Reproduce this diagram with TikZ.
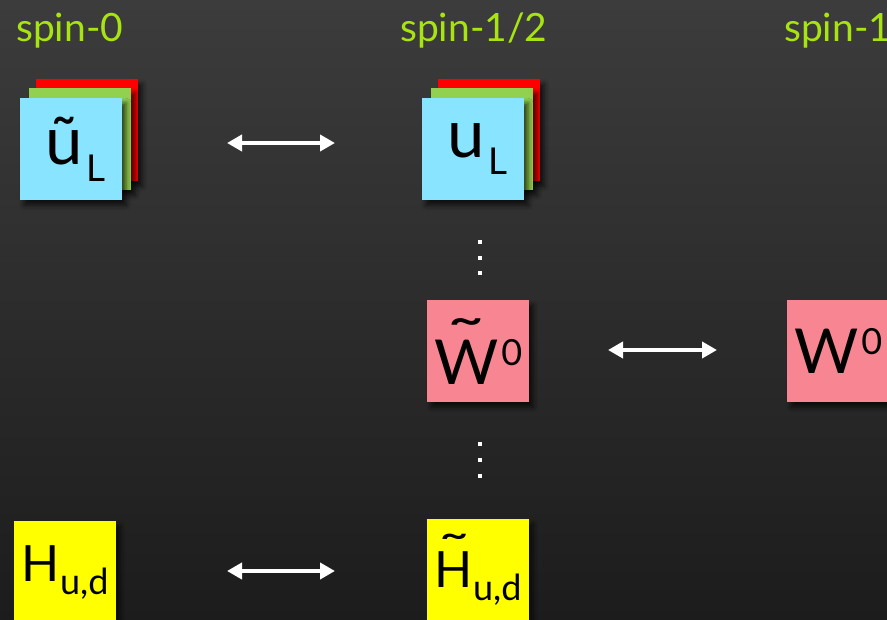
\documentclass[tikz,border=0pt]{standalone}
\usepackage{fontspec}
\setmainfont{Lato}
\usepackage{tikz}
\usetikzlibrary{arrows.meta,shadows.blur}
\definecolor{boardtop}{RGB}{60,60,60}
\definecolor{boardbot}{RGB}{28,28,28}
\definecolor{spinlab}{RGB}{168,228,18}
\definecolor{qblue}{RGB}{136,228,255}
\definecolor{qgreen}{RGB}{146,208,80}
\definecolor{qred}{RGB}{255,0,0}
\definecolor{gpink}{RGB}{248,134,146}
\definecolor{hyel}{RGB}{255,255,0}
\newcommand\captilde[1]{\leavevmode\setbox0\hbox{#1}\rlap{\hbox to\wd0{\hss\raisebox{0.36em}{\scalebox{1.6}[1]{˜}}\hss}}\box0}
\newcommand\bigsz{\fontsize{62}{62}\selectfont}
\newcommand\usz{\fontsize{67}{67}\selectfont}
\newcommand\smsz{\fontsize{37}{37}\selectfont}
\tikzset{
  sq/.style  ={minimum width=102pt, minimum height=102pt, inner sep=0pt, anchor=north west,
               blur shadow={shadow xshift=4pt,shadow yshift=-5pt,shadow blur radius=5pt,shadow opacity=70}},
  lab/.style ={text=spinlab, font=\fontsize{39}{39}\selectfont, anchor=base west, inner sep=0pt},
  dbl/.style ={draw=white, line width=4pt, {Triangle[length=15pt,width=16pt]}-{Triangle[length=15pt,width=16pt]}},
  vdot/.style={fill=white, minimum size=4pt, inner sep=0pt},
}
\begin{document}
\begin{tikzpicture}[x=1pt,y=-1pt]
  \useasboundingbox (0,0) rectangle (887,620);
  \clip (0,0) rectangle (887,620);
  \shade[top color=boardtop, bottom color=boardbot] (0,0) rectangle (887,620);
  % column heads
  \node[lab] (s0) at (16,42) {spin-0};
  \node[lab] (shalf) at (400,42) {spin-1/2};
  \node[lab] (sone) at (784,42) {spin-1};
  % up quark row
  \node[sq, fill=qred] (ulsr) at (36,79) {};
  \node[sq, fill=qgreen] (ulsg) at (29,88) {};
  \node[sq, fill=qblue, font=\usz] (uls) at (20,98) {\hspace{8pt}ũ\hspace{4pt}\raisebox{-17pt}{\smsz L}};
  \node[sq, fill=qred] (ulfr) at (438,79) {};
  \node[sq, fill=qgreen] (ulfg) at (431,88) {};
  \node[sq, fill=qblue, font=\usz] (ulf) at (422,98) {\hspace{8pt}u\hspace{4pt}\raisebox{-17pt}{\smsz L}};
  % W row
  \node[sq, fill=gpink, font=\bigsz] (wino) at (427,300) {\captilde{W}\hspace{3pt}\raisebox{19pt}{\fontsize{36}{36}\selectfont 0}};
  \node[sq, fill=gpink, font=\bigsz] (wzero) at (787,300) {W\hspace{3pt}\raisebox{19pt}{\fontsize{36}{36}\selectfont 0}};
  % Higgs row
  \node[sq, fill=hyel, font=\fontsize{50}{50}\selectfont] (hsc) at (14,521) {H\raisebox{-13pt}{\fontsize{36}{36}\selectfont u,d}};
  \node[sq, fill=hyel, font=\fontsize{50}{50}\selectfont] (hino) at (427,519) {\captilde{H}\raisebox{-13pt}{\fontsize{36}{36}\selectfont u,d}};
  % arrows
  \coordinate (a1w) at (227,143);
  \coordinate (a1e) at (335,143);
  \coordinate (a2w) at (608,350);
  \coordinate (a2e) at (717,350);
  \coordinate (a3w) at (227,571);
  \coordinate (a3e) at (335,571);
  \draw[dbl] (a1w) -- (a1e);
  \draw[dbl] (a2w) -- (a2e);
  \draw[dbl] (a3w) -- (a3e);
  % dots
  \foreach \y in {242,258,273,444,460,476}
    \node[vdot] at (480,\y) {};
\end{tikzpicture}
\end{document}
